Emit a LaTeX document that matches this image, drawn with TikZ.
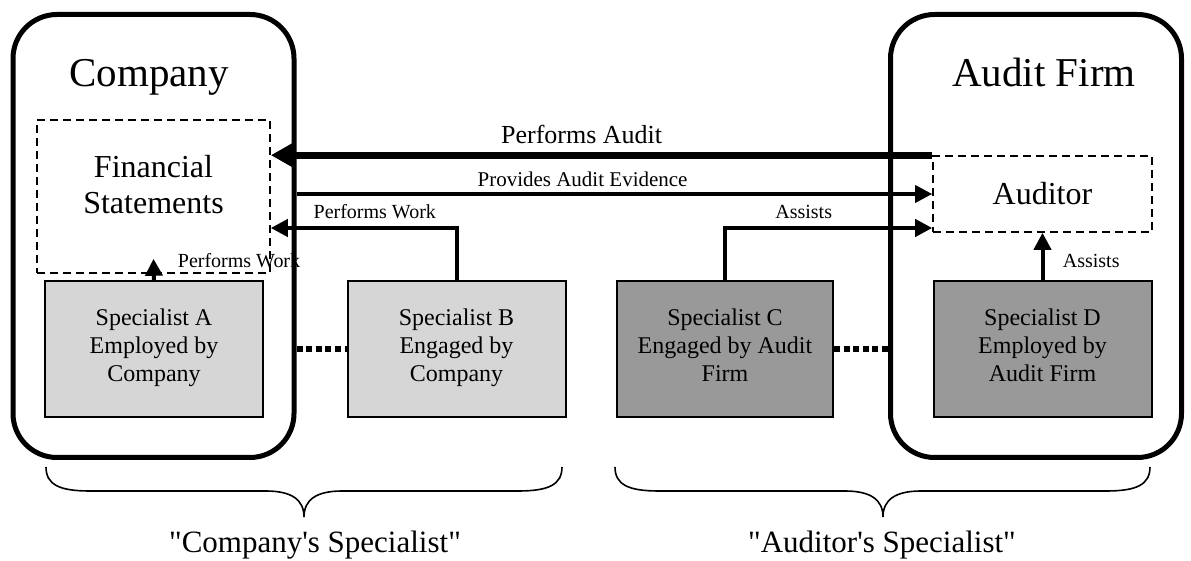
\documentclass[tikz,border=0pt]{standalone}
\usepackage{fontspec}
\setmainfont{Liberation Serif}
\usetikzlibrary{calc,arrows.meta}

\begin{document}
\begin{tikzpicture}[x=0.5pt,y=-0.5pt,
  every node/.style={inner sep=0pt,align=center},
  bigbox/.style={draw,line width=2.5pt,rounded corners=22pt},
  dashbox/.style={draw,line width=0.8pt,dash pattern=on 4pt off 2.5pt,font=\fontsize{16}{18}\selectfont},
  specbox/.style={draw,line width=1pt,minimum width=109pt,minimum height=68pt,font=\fontsize{12}{14}\selectfont},
  headtext/.style={font=\fontsize{20.5}{24}\selectfont},
  lbl/.style={font=\fontsize{10}{12}\selectfont},
  link/.style={line width=2pt,-{Triangle[length=8.5pt,width=8.5pt]}},
  dotlink/.style={line width=3pt,dash pattern=on 3pt off 1.8pt},
  bracepath/.style={line width=0.8pt}
]
\useasboundingbox (0,0) rectangle (1191,561);
%Nodes
\path
 (153.5,196.5) node[dashbox,minimum width=116.5pt,minimum height=76.5pt,text depth=12.5pt] (fs) {Financial\\Statements}
 (1042.5,194) node[dashbox,minimum width=109.5pt,minimum height=38pt] (aud) {Auditor}
 (154,349) node[specbox,fill=black!16] (spA) {Specialist A\\Employed by\\Company\strut}
 (456.5,349) node[specbox,fill=black!16] (spB) {Specialist B\\Engaged by\\Company\strut}
 (725,349) node[specbox,fill=black!40,minimum width=108pt] (spC) {Specialist C\\Engaged by Audit\\Firm\strut}
 (1042.5,349) node[specbox,fill=black!40] (spD) {Specialist D\\Employed by\\Audit Firm\strut}
 (149,87) node[headtext,anchor=base] (comptitle) {Company}
 (1044,87) node[headtext,anchor=base] (firmtitle) {Audit Firm}
 ;
\node[lbl,anchor=base west] (workA) at ($(fs.south)+(24,-6)$) {Performs Work};
\path
 (153.5,236) node[bigbox,minimum width=140.5pt,minimum height=221.5pt] (company) {}
 (1036,236) node[bigbox,minimum width=145.5pt,minimum height=221.5pt] (firm) {}
 ;
%Edges
\draw[line width=3.5pt,-{Triangle[length=11.5pt,width=12pt]}] (aud.north west) -- (fs.east |- aud.north west)
  node[pos=0.53,above=4pt,font=\fontsize{13}{15}\selectfont] (auditlbl) {Performs Audit};
\draw[line width=1.75pt,-{Triangle[length=8.5pt,width=8.5pt]}] (company.east |- aud.west) -- (aud.west)
  node[pos=0.45,above=3pt,font=\fontsize{10.5}{12}\selectfont] (evidlbl) {Provides Audit Evidence};
\draw[link] (spB.north) |- ($(fs.east)+(0,31.5)$) node[lbl,pos=0.72,above=3.5pt] (workB) {Performs Work};
\draw[link] (spC.north) |- ($(aud.west)+(0,34)$) node[lbl,pos=0.69,above=3.5pt] (assistC) {Assists};
\draw[link] (spA.north) -- ($(fs.south)+(0,-15)$);
\draw[link] (spD.north) -- (aud.south);
\node[lbl,anchor=base west] (assistD) at ($(aud.south)+(20,35)$) {Assists};
\draw[dotlink] (company.east |- spA.east) -- (spB.west);
\draw[dotlink] (spC.east) -- (firm.west |- spC.east);

% Braces and group names
\draw[bracepath] (46,467) .. controls (46,485) and (60,491) .. (90,491) -- (266,491)
  .. controls (292,491) and (304,500) .. (304,517) .. controls (304,500) and (316,491) .. (342,491)
  -- (518,491) .. controls (548,491) and (562,485) .. (562,467);
\draw[bracepath] (615,467) .. controls (615,485) and (629,491) .. (659,491) -- (845,491)
  .. controls (871,491) and (883,500) .. (883,517) .. controls (883,500) and (895,491) .. (921,491)
  -- (1106,491) .. controls (1136,491) and (1150,485) .. (1150,467);
\node[font=\fontsize{15.5}{18}\selectfont,anchor=base] (complbl) at (315,553) {\textquotedbl Company\textquotesingle s Specialist\textquotedbl};
\node[font=\fontsize{15.5}{18}\selectfont,anchor=base] (audlbl) at (882,553) {\textquotedbl Auditor\textquotesingle s Specialist\textquotedbl};
\end{tikzpicture}
\end{document}
